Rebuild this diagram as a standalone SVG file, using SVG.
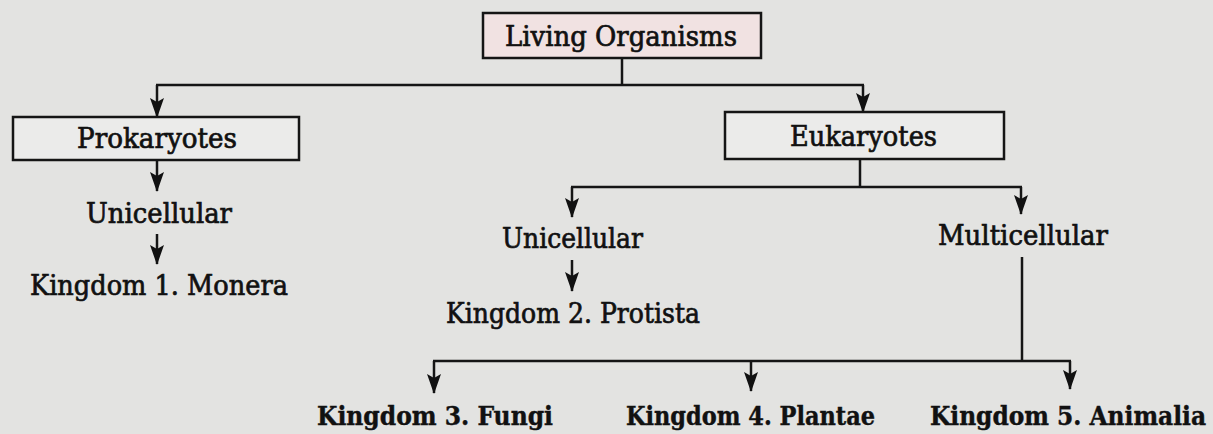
<svg xmlns="http://www.w3.org/2000/svg" width="1213" height="434" viewBox="0 0 1213 434">
<defs>
<marker id="ah" markerUnits="userSpaceOnUse" markerWidth="20" markerHeight="14" viewBox="0 0 20 14" refX="19" refY="7" orient="auto">
<path d="M0,0 L20,7 L0,14 L4,7 Z" fill="#111"/>
</marker>
<style>
.bg{fill:#e3e3e1}
.box{fill:#ebebea;stroke:#151515;stroke-width:2.5}
.root{fill:#f1e2e2;stroke:#151515;stroke-width:2.5}
.t{font-family:"DejaVu Serif","Liberation Serif",serif;font-size:27px;fill:#111;stroke:#111;stroke-width:0.7}
.b{font-family:"DejaVu Serif Condensed","DejaVu Serif",serif;font-size:25.5px;font-weight:bold;fill:#111;stroke:#111;stroke-width:0.4}
.ln{fill:none;stroke:#151515;stroke-width:2.5}
.ar{fill:none;stroke:#151515;stroke-width:2.5;marker-end:url(#ah)}
</style>
</defs>
<rect class="bg" x="0" y="0" width="1213" height="434"/>
<g id="connectors">
<line class="ln" x1="622" y1="58" x2="622" y2="85"/>
<line class="ln" x1="156" y1="85" x2="864" y2="85"/>
<line class="ar" x1="157" y1="85" x2="157" y2="117"/>
<line class="ar" x1="863" y1="85" x2="863" y2="112"/>
<line class="ar" x1="157" y1="160" x2="157" y2="191"/>
<line class="ar" x1="157" y1="234" x2="157" y2="264"/>
<line class="ln" x1="860" y1="159" x2="860" y2="187"/>
<line class="ln" x1="571" y1="187" x2="1022" y2="187"/>
<line class="ar" x1="572" y1="187" x2="572" y2="217"/>
<line class="ar" x1="1021" y1="187" x2="1021" y2="214"/>
<line class="ar" x1="572" y1="260" x2="572" y2="291"/>
<line class="ln" x1="1022" y1="257" x2="1022" y2="361"/>
<line class="ln" x1="433" y1="361" x2="1071" y2="361"/>
<line class="ar" x1="434" y1="361" x2="434" y2="393"/>
<line class="ar" x1="751" y1="361" x2="751" y2="391"/>
<line class="ar" x1="1070" y1="361" x2="1070" y2="389"/>
</g>
<g id="living">
<rect class="root" x="483" y="13" width="278" height="45"/>
<text class="t" x="505" y="46" textLength="232" lengthAdjust="spacingAndGlyphs">Living Organisms</text>
</g>
<g id="prokaryotes">
<rect class="box" x="13" y="117" width="286" height="43"/>
<text class="t" x="77" y="148" textLength="160" lengthAdjust="spacingAndGlyphs">Prokaryotes</text>
</g>
<g id="eukaryotes">
<rect class="box" x="725" y="112" width="279" height="47"/>
<text class="t" x="790" y="146" textLength="147" lengthAdjust="spacingAndGlyphs">Eukaryotes</text>
</g>
<g id="unicellular1">
<text class="t" x="86" y="223" textLength="146" lengthAdjust="spacingAndGlyphs">Unicellular</text>
</g>
<g id="monera">
<text class="t" x="30" y="295" textLength="258" lengthAdjust="spacingAndGlyphs">Kingdom 1. Monera</text>
</g>
<g id="unicellular2">
<text class="t" x="502" y="248" textLength="141" lengthAdjust="spacingAndGlyphs">Unicellular</text>
</g>
<g id="protista">
<text class="t" x="446" y="323" textLength="254" lengthAdjust="spacingAndGlyphs">Kingdom 2. Protista</text>
</g>
<g id="multicellular">
<text class="t" x="938" y="245" textLength="170" lengthAdjust="spacingAndGlyphs">Multicellular</text>
</g>
<g id="fungi">
<text class="b" x="317" y="425" textLength="236" lengthAdjust="spacingAndGlyphs">Kingdom 3.  Fungi</text>
</g>
<g id="plantae">
<text class="b" x="626" y="425" textLength="249" lengthAdjust="spacingAndGlyphs">Kingdom 4.  Plantae</text>
</g>
<g id="animalia">
<text class="b" x="930" y="425" textLength="276" lengthAdjust="spacingAndGlyphs">Kingdom 5.  Animalia</text>
</g>
</svg>
